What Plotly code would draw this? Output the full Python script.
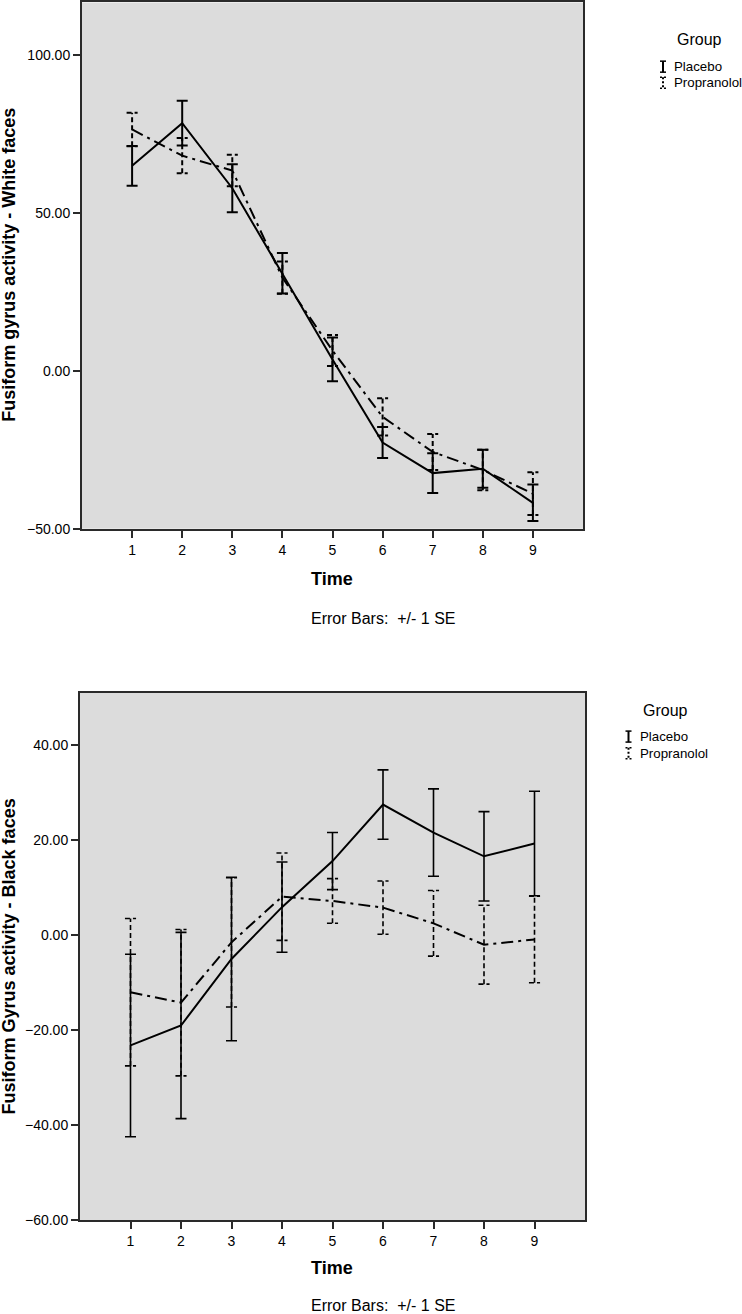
import plotly.graph_objects as go

# ---------------- data ----------------
time = [1, 2, 3, 4, 5, 6, 7, 8, 9]

white_placebo_mean = [64.9, 78.4, 57.8, 30.9, 3.6, -22.7, -32.4, -31.0, -41.8]
white_placebo_se = [6.3, 7.1, 7.6, 6.4, 6.9, 4.9, 6.3, 6.0, 5.8]
white_prop_mean = [76.4, 68.1, 63.4, 29.5, 6.4, -14.6, -25.7, -31.4, -38.9]
white_prop_se = [5.3, 5.6, 5.0, 5.1, 4.9, 5.9, 5.7, 6.4, 6.8]

black_placebo_mean = [-23.2, -19.0, -5.0, 5.9, 15.6, 27.5, 21.6, 16.6, 19.3]
black_placebo_se = [19.2, 19.6, 17.2, 9.5, 6.0, 7.3, 9.2, 9.4, 11.0]
black_prop_mean = [-12.0, -14.2, -1.5, 8.1, 7.2, 5.8, 2.5, -2.0, -0.9]
black_prop_se = [15.5, 15.4, 13.6, 9.2, 4.7, 5.6, 6.9, 8.3, 9.1]

group_labels = ["Placebo", "Propranolol"]
x_title = "Time"
y_titles = ["Fusiform gyrus activity - White faces", "Fusiform Gyrus activity - Black faces"]
note = "Error Bars:\u00a0 +/- 1 SE"

# ---------------- layout helpers ----------------
W, H = 742, 1320
SY = 1.0063  # the captured page is slightly squeezed vertically; compensate
FONT = "Liberation Sans, Arial, sans-serif"


def fx(p):
    return p / W


def fy(p):
    return 1 - p * SY / H


CAP = 0.11  # half cap width in x units


def err_path(xs, means, ses):
    ex, ey = [], []
    for t, m, s in zip(xs, means, ses):
        ex += [t, t, None, t - CAP, t + CAP, None, t - CAP, t + CAP, None]
        ey += [m - s, m + s, None, m + s, m + s, None, m - s, m - s, None]
    return ex, ey


fig = go.Figure()

panels = [
    dict(pm=white_placebo_mean, ps=white_placebo_se, qm=white_prop_mean, qs=white_prop_se,
         xa="x", ya="y", stem=2),
    dict(pm=black_placebo_mean, ps=black_placebo_se, qm=black_prop_mean, qs=black_prop_se,
         xa="x2", ya="y2", stem=1.6),
]

for p in panels:
    # Propranolol dashed error bars
    ex, ey = err_path(time, p["qm"], p["qs"])
    fig.add_trace(go.Scatter(x=ex, y=ey, mode="lines", xaxis=p["xa"], yaxis=p["ya"],
                             line=dict(color="black", width=p["stem"], dash="5px,3px"),
                             showlegend=False, hoverinfo="skip"))
    # Propranolol mean line (dash-dot)
    fig.add_trace(go.Scatter(x=time, y=p["qm"], mode="lines", xaxis=p["xa"], yaxis=p["ya"],
                             name=group_labels[1],
                             line=dict(color="black", width=2, dash="12px,5px,3px,5px"),
                             showlegend=False))
    # Placebo solid with error bars
    fig.add_trace(go.Scatter(x=time, y=p["pm"], mode="lines", xaxis=p["xa"], yaxis=p["ya"],
                             name=group_labels[0],
                             line=dict(color="black", width=2),
                             error_y=dict(type="data", array=p["ps"], visible=True,
                                          color="black", thickness=p["stem"], width=5.5),
                             showlegend=False))

axis_common = dict(showgrid=False, zeroline=False, showline=True, mirror=True,
                   linecolor="#2a2a2a", linewidth=2, ticks="outside", ticklen=7,
                   tickwidth=2, tickcolor="#2a2a2a",
                   tickfont=dict(family=FONT, size=14, color="black"))

fig.update_layout(
    width=W, height=H,
    margin=dict(l=0, r=0, t=0, b=0),
    paper_bgcolor="white",
    plot_bgcolor="#dcdcdc",
    showlegend=False,
    xaxis=dict(domain=[fx(82), fx(583)], range=[0, 10], tickvals=time, anchor="y", **axis_common),
    yaxis=dict(domain=[fy(528), fy(1.5)], range=[-50, 116.6], tickvals=[-50, 0, 50, 100],
               tickformat=".2f", anchor="x", **axis_common),
    xaxis2=dict(domain=[fx(80), fx(585)], range=[0, 10], tickvals=time, anchor="y2", **axis_common),
    yaxis2=dict(domain=[fy(1220), fy(692)], range=[-60, 51.05], tickvals=[-60, -40, -20, 0, 20, 40],
                tickformat=".2f", anchor="x2", **axis_common),
)

annotations = []
shapes = []

panel_geo = [
    dict(cx=332, title_y=578, note_y=618, ycx=9, ycy=264,
         grp_x=699, grp_y=39, lab_x=672, lab_y=[65.7, 81.7], glyph_x=663),
    dict(cx=332, title_y=1268, note_y=1305, ycx=9, ycy=956,
         grp_x=665.5, grp_y=710, lab_x=638, lab_y=[736, 752.7], glyph_x=628.5),
]

for i, g in enumerate(panel_geo):
    annotations.append(dict(text="<b>%s</b>" % x_title, x=fx(g["cx"]), y=fy(g["title_y"]),
                            xref="paper", yref="paper", showarrow=False,
                            font=dict(family=FONT, size=18, color="black"),
                            xanchor="center", yanchor="middle"))
    annotations.append(dict(text=note, x=fx(383), y=fy(g["note_y"]),
                            xref="paper", yref="paper", showarrow=False,
                            font=dict(family=FONT, size=16, color="black"),
                            xanchor="center", yanchor="middle"))
    annotations.append(dict(text="<b>%s</b>" % y_titles[i], x=fx(g["ycx"]), y=fy(g["ycy"]),
                            xref="paper", yref="paper", showarrow=False, textangle=-90,
                            font=dict(family=FONT, size=18, color="black"),
                            xanchor="center", yanchor="middle"))
    annotations.append(dict(text="Group", x=fx(g["grp_x"]), y=fy(g["grp_y"]),
                            xref="paper", yref="paper", showarrow=False,
                            font=dict(family=FONT, size=16, color="black"),
                            xanchor="center", yanchor="middle"))
    for j, lab in enumerate(group_labels):
        ly = g["lab_y"][j]
        annotations.append(dict(text=lab, x=fx(g["lab_x"]), y=fy(ly),
                                xref="paper", yref="paper", showarrow=False,
                                font=dict(family=FONT, size=13.3, color="black"),
                                xanchor="left", yanchor="middle"))
        gx = g["glyph_x"]
        dash = "solid" if j == 0 else "2px,2px"
        shapes.append(dict(type="line", xref="paper", yref="paper",
                           x0=fx(gx), x1=fx(gx), y0=fy(ly - 5.5), y1=fy(ly + 5.5),
                           line=dict(color="black", width=2, dash=dash)))
        for yy in (ly - 5.5, ly + 5.5):
            shapes.append(dict(type="line", xref="paper", yref="paper",
                               x0=fx(gx - 3), x1=fx(gx + 3), y0=fy(yy), y1=fy(yy),
                               line=dict(color="black", width=1.5, dash=dash if j == 1 else "solid")))

fig.update_layout(annotations=annotations, shapes=shapes)

# the browser's default 8px body margin would shift the figure; remove it
fig.write_html("out.html", config={"displayModeBar": False},
               post_script="document.body.style.margin='0';")
